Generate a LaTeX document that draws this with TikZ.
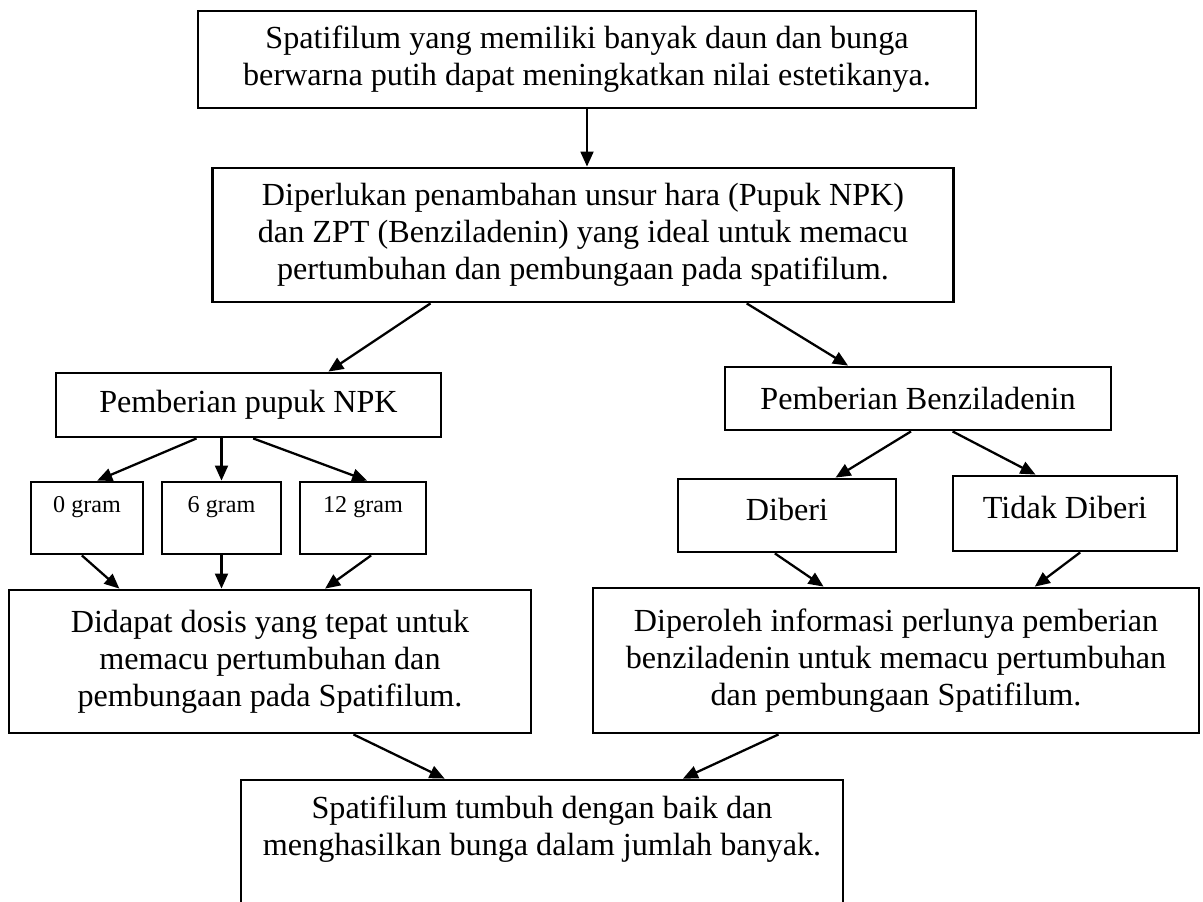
\documentclass[tikz,border=0pt]{standalone}
\usepackage{fontspec}
\setmainfont{Liberation Serif}
\usetikzlibrary{arrows.meta,calc}
\newcommand{\pxu}{0.3731pt}

\begin{document}
\begin{tikzpicture}[x=\pxu,y=-\pxu,
  box/.style={draw,line width=1.05pt,align=center,inner sep=0pt,font=\fontsize{12}{13.8}\selectfont},
  smallbox/.style={box,font=\fontsize{9}{10.35}\selectfont},
  arr/.style={-{Triangle[length=5.6pt,width=4.8pt]},line width=0.85pt}]
\useasboundingbox (0,0) rectangle (1203,901);

\node[box,minimum width=778*\pxu,minimum height=97*\pxu] (aim) at (587,59.5)
  {Spatifilum yang memiliki banyak daun dan bunga\\berwarna putih dapat meningkatkan nilai estetikanya.};
\node[box,minimum width=741*\pxu,minimum height=134*\pxu] (need) at (583,235)
  {Diperlukan penambahan unsur hara (Pupuk NPK)\\dan ZPT (Benziladenin) yang ideal untuk memacu\\pertumbuhan dan pembungaan pada spatifilum.};

\node[box,minimum width=385*\pxu,minimum height=64*\pxu] (npk) at (248.5,405) {Pemberian pupuk NPK};
\node[box,minimum width=386*\pxu,minimum height=63*\pxu] (ba) at (918,398.5) {Pemberian Benziladenin};

\node[smallbox,minimum width=112*\pxu,minimum height=72*\pxu] (zero) at (87,518) {0 gram\\\mbox{}};
\node[smallbox,minimum width=119*\pxu,minimum height=72*\pxu] (six) at (221.5,518) {6 gram\\\mbox{}};
\node[smallbox,minimum width=126*\pxu,minimum height=72*\pxu] (twelve) at (363,518) {12 gram\\\mbox{}};

\node[box,text depth=4.5pt,minimum width=218*\pxu,minimum height=73*\pxu] (given) at (787,515.5) {Diberi};
\node[box,text depth=4.5pt,minimum width=224*\pxu,minimum height=75*\pxu] (notgiven) at (1065,513.5) {Tidak Diberi};

\node[box,minimum width=522*\pxu,minimum height=143*\pxu] (dose) at (270,661.5)
  {Didapat dosis yang tepat untuk\\memacu pertumbuhan dan\\pembungaan pada Spatifilum.};
\node[box,minimum width=606*\pxu,minimum height=145*\pxu] (info) at (896,660.5)
  {Diperoleh informasi perlunya pemberian\\benziladenin untuk memacu pertumbuhan\\dan pembungaan Spatifilum.};

\node[box,minimum width=602*\pxu,minimum height=128*\pxu] (result) at (542,844)
  {Spatifilum tumbuh dengan baik dan\\menghasilkan bunga dalam jumlah banyak.\\\mbox{}};

% arrows
\draw[arr] (aim.south) -- (aim.south |- need.north);
\draw[arr] ($(need.south west)!.295!(need.south east)$) -- ($(npk.north west)!.706!(npk.north east)$);
\draw[arr] ($(need.south west)!.72!(need.south east)$) -- ($(ba.north west)!.32!(ba.north east)$);

\draw[arr] ($(npk.south west)!.366!(npk.south east)$) -- ($(zero.north west)!.589!(zero.north east)$);
\draw[arr] (npk.south -| six.north) -- (six.north);
\draw[arr] ($(npk.south west)!.512!(npk.south east)$) -- ($(twelve.north west)!.532!(twelve.north east)$);

\draw[arr] ($(ba.south west)!.482!(ba.south east)$) -- ($(given.north west)!.72!(given.north east)$);
\draw[arr] ($(ba.south west)!.589!(ba.south east)$) -- ($(notgiven.north west)!.37!(notgiven.north east)$);

\draw[arr] ($(zero.south west)!.455!(zero.south east)$) -- ($(dose.north west)!.213!(dose.north east)$);
\draw[arr] (six.south) -- (six.south |- dose.north);
\draw[arr] ($(twelve.south west)!.563!(twelve.south east)$) -- ($(dose.north west)!.605!(dose.north east)$);

\draw[arr] ($(given.south west)!.445!(given.south east)$) -- ($(info.north west)!.381!(info.north east)$);
\draw[arr] ($(notgiven.south west)!.567!(notgiven.south east)$) -- ($(info.north west)!.728!(info.north east)$);

\draw[arr] ($(dose.south west)!.659!(dose.south east)$) -- ($(result.north west)!.339!(result.north east)$);
\draw[arr] ($(info.south west)!.307!(info.south east)$) -- ($(result.north west)!.733!(result.north east)$);
\end{tikzpicture}
\end{document}
